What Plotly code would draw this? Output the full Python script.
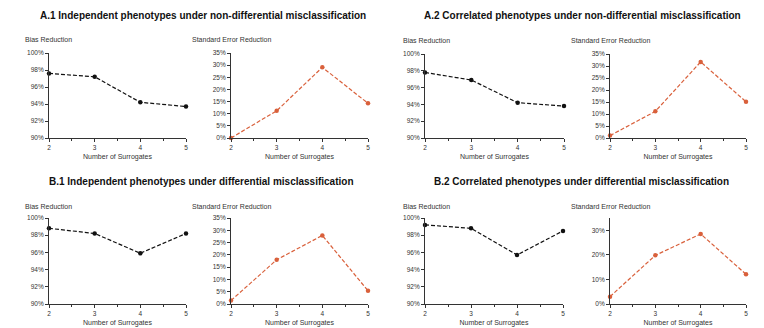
import plotly.graph_objects as go

surrogates = [2, 3, 4, 5]

panel_titles = [
    "A.1 Independent phenotypes under non-differential misclassification",
    "A.2 Correlated phenotypes under non-differential misclassification",
    "B.1 Independent phenotypes under differential misclassification",
    "B.2 Correlated phenotypes under differential misclassification",
]

bias_a1 = [97.6, 97.2, 94.2, 93.7]
se_a1 = [0.0, 11.2, 29.1, 14.3]
bias_a2 = [97.8, 96.9, 94.2, 93.8]
se_a2 = [1.0, 11.1, 31.7, 15.1]
bias_b1 = [98.8, 98.2, 95.9, 98.2]
se_b1 = [1.4, 18.0, 27.9, 5.4]
bias_b2 = [99.2, 98.8, 95.7, 98.5]
se_b2 = [3.0, 19.8, 28.5, 12.1]

W, H = 764, 328
FONT = "Liberation Sans, Arial, Helvetica, sans-serif"
BLACK = "#111111"
ORANGE = "#D9603B"

fig = go.Figure()

# plot boxes in pixels: (x0, x1, ytop, ybottom)
boxes = [
    (49, 186, 53, 138), (231, 368, 53, 138),
    (425, 564, 54, 138), (610, 746, 54, 138),
    (49, 186, 218, 304), (231, 368, 218, 304),
    (425, 563, 218, 304), (610, 746, 218, 304),
]
series = [bias_a1, se_a1, bias_a2, se_a2, bias_b1, se_b1, bias_b2, se_b2]
kinds = ["bias", "se", "bias", "se", "bias", "se", "bias", "se_b2"]

layout = {}
for i, (box, ys, kind) in enumerate(zip(boxes, series, kinds)):
    n = i + 1
    xa = "x" if n == 1 else f"x{n}"
    ya = "y" if n == 1 else f"y{n}"
    color = BLACK if kind == "bias" else ORANGE
    fig.add_trace(go.Scatter(
        x=surrogates, y=ys, xaxis=xa, yaxis=ya, mode="lines+markers",
        line=dict(color=color, width=1.2, dash="4px,2px"),
        marker=dict(color=color, size=4.5),
        cliponaxis=False, showlegend=False, hoverinfo="skip"))
    x0, x1, yt, yb = box
    xkey = "xaxis" if n == 1 else f"xaxis{n}"
    ykey = "yaxis" if n == 1 else f"yaxis{n}"
    layout[xkey] = dict(
        domain=[x0 / W, x1 / W], anchor=ya, range=[2, 5], tickvals=surrogates,
        showline=True, linecolor="#333", linewidth=1, ticks="outside", ticklen=3,
        tickcolor="#333", showgrid=False, zeroline=False, automargin=False,
        tickfont=dict(size=6.5, color="#333", family=FONT),
        minor=dict(tickvals=[2.5, 3.5, 4.5], ticks="outside", ticklen=2, tickcolor="#333"),
        title=dict(text="Number of Surrogates", font=dict(size=7, color="#333", family=FONT), standoff=4),
    )
    if kind == "bias":
        yr, dt = [90, 100], 2
    elif kind == "se":
        yr, dt = [0, 35], 5
    else:
        yr, dt = [0, 35], 10
    layout[ykey] = dict(
        domain=[1 - yb / H, 1 - yt / H], anchor=xa, range=yr, dtick=dt, ticksuffix="%",
        showline=True, linecolor="#333", linewidth=1, ticks="outside", ticklen=3,
        tickcolor="#333", showgrid=False, zeroline=False, automargin=False,
        tickfont=dict(size=6.5, color="#333", family=FONT),
    )

annotations = []
title_pos = [(203, 15), (582, 15), (202, 181), (581, 181)]
for t, (cx, cy) in zip(panel_titles, title_pos):
    annotations.append(dict(text="<b>" + t + "</b>", x=cx / W, y=1 - cy / H, xref="paper", yref="paper",
                            showarrow=False, xanchor="center", yanchor="middle",
                            font=dict(size=10, color="#111", family=FONT)))

sub_pos = [(23, 39, "Bias Reduction"), (190, 39, "Standard Error Reduction"),
           (401, 40, "Bias Reduction"), (569, 40, "Standard Error Reduction"),
           (23, 206, "Bias Reduction"), (190, 206, "Standard Error Reduction"),
           (401, 206, "Bias Reduction"), (569, 206, "Standard Error Reduction")]
for x, y, t in sub_pos:
    annotations.append(dict(text=t, x=x / W, y=1 - y / H, xref="paper", yref="paper",
                            showarrow=False, xanchor="left", yanchor="middle",
                            font=dict(size=7, color="#333", family=FONT)))

fig.update_layout(
    width=W, height=H, margin=dict(l=0, r=0, t=0, b=0),
    paper_bgcolor="white", plot_bgcolor="white",
    annotations=annotations, **layout)

fig.write_html("out.html", config={"displayModeBar": False, "staticPlot": True},
               post_script="document.body.style.margin='0';document.body.style.overflow='hidden';")
